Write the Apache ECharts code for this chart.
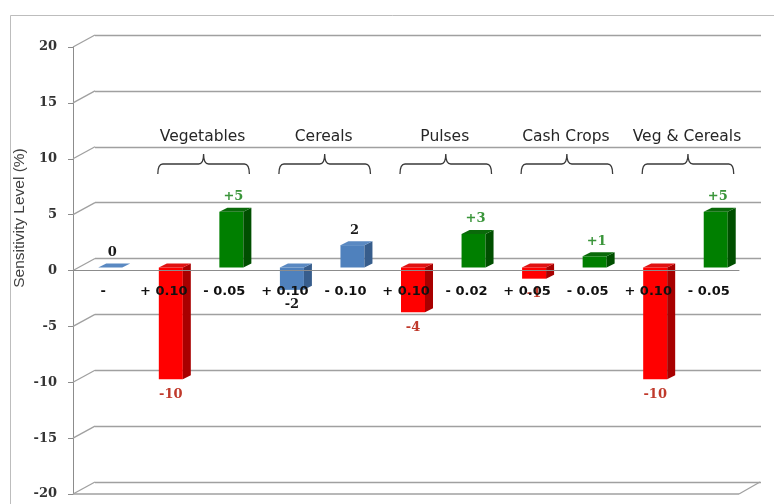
<!DOCTYPE html>
<html>
<head>
<meta charset="utf-8">
<script src="https://cdn.jsdelivr.net/npm/echarts@6/dist/echarts.min.js"></script>
<style>
  html, body { margin: 0; padding: 0; background: #ffffff; }
  #chart { width: 774px; height: 504px; }
</style>
</head>
<body>
<div id="chart"></div>
<script>
// Price-change scenarios (x axis) and the resulting sensitivity level (%)
const categories = ['-', '+ 0.10', '- 0.05', '+ 0.10', '- 0.10', '+ 0.10', '- 0.02', '+ 0.05', '- 0.05', '+ 0.10', '- 0.05'];
const sensitivity = [0, -10, 5, -2, 2, -4, 3, -1, 1, -10, 5];
// colour family of each column
const barKinds = ['neutral', 'priceUp', 'priceDown', 'neutral', 'neutral', 'priceUp', 'priceDown', 'priceUp', 'priceDown', 'priceUp', 'priceDown'];
// crop groups, each spanning two neighbouring scenarios
const groupNames = ['Vegetables', 'Cereals', 'Pulses', 'Cash Crops', 'Veg & Cereals'];
const groupFirstIndex = [1, 3, 5, 7, 9];
const yTicks = [-20, -15, -10, -5, 0, 5, 10, 15, 20];

const palette = {
  neutral:   { front: '#4F81BD', side: '#375D8C', top: '#5A89C2', label: '#1a1a1a', sign: '' },
  priceUp:   { front: '#FF0000', side: '#A80000', top: '#E01212', label: '#C0392B', sign: '' },
  priceDown: { front: '#007F00', side: '#004F00', top: '#0A6A0A', label: '#3A953A', sign: '+' }
};

// pseudo-3D depth of the plot box (back wall offset) and of the columns
const WALL_DX = 22, WALL_DY = 12;
const BAR_SHIFT_X = 7, BAR_SHIFT_Y = 3, BAR_HALF = 12, BAR_DX = 8, BAR_DY = 4;
const W = 774, H = 504;
const frontGrid = { left: 73, top: 47, right: 35, bottom: 10 };
const backGrid = {
  left: frontGrid.left + WALL_DX, top: frontGrid.top - WALL_DY,
  right: frontGrid.right - WALL_DX, bottom: frontGrid.bottom + WALL_DY
};
// the category axis sits on the zero line of the front plane
const zeroY = frontGrid.top + (H - frontGrid.top - frontGrid.bottom) * yTicks[yTicks.length - 1] / (yTicks[yTicks.length - 1] - yTicks[0]);
const axisGrid = { left: frontGrid.left, top: frontGrid.top, right: frontGrid.right, bottom: H - zeroY };
const lineGrey = '#a0a0a0';

const chart = echarts.init(document.getElementById('chart'), null, { renderer: 'canvas' });

function renderColumn(params, api) {
  const i = api.value(0), v = api.value(1);
  const p0 = api.coord([i, 0]), p1 = api.coord([i, v]);
  const cx = p0[0] + BAR_SHIFT_X;
  const yb = p0[1] - BAR_SHIFT_Y, yv = p1[1] - BAR_SHIFT_Y;
  const yTop = Math.min(yb, yv), yBot = Math.max(yb, yv);
  const c = palette[barKinds[i]];
  const children = [];
  if (yBot - yTop > 0.5) {
    children.push({ type: 'rect', shape: { x: cx - BAR_HALF, y: yTop, width: 2 * BAR_HALF, height: yBot - yTop }, style: { fill: c.front } });
    children.push({ type: 'polygon', shape: { points: [[cx + BAR_HALF, yTop], [cx + BAR_HALF + BAR_DX, yTop - BAR_DY], [cx + BAR_HALF + BAR_DX, yBot - BAR_DY], [cx + BAR_HALF, yBot]] }, style: { fill: c.side } });
  }
  children.push({ type: 'polygon', shape: { points: [[cx - BAR_HALF, yTop], [cx - BAR_HALF + BAR_DX, yTop - BAR_DY], [cx + BAR_HALF + BAR_DX, yTop - BAR_DY], [cx + BAR_HALF, yTop]] }, style: { fill: c.top } });
  const text = (v > 0 ? c.sign : '') + String(v);
  const ly = v >= 0 ? yTop - BAR_DY - 11 : yBot + 15;
  const lx = v >= 0 ? cx + 2 : cx;
  children.push({
    type: 'text', z2: 10,
    style: { text: text, x: lx, y: ly, align: 'center', verticalAlign: 'middle', fill: c.label,
      fontFamily: 'DejaVu Serif', fontWeight: 'bold', fontSize: 13 }
  });
  return { type: 'group', children: children };
}

function renderFrame(params, api) {
  const cs = params.coordSys;
  const v = api.value(1);
  const y = api.coord([0, v])[1];
  const st = { stroke: lineGrey, lineWidth: 1.3 };
  const children = [{ type: 'line', shape: { x1: cs.x, y1: y, x2: cs.x + WALL_DX, y2: y - WALL_DY }, style: st }];
  if (v === yTicks[0]) {
    const xr = cs.x + cs.width;
    children.push({ type: 'line', shape: { x1: cs.x, y1: y, x2: xr, y2: y }, style: st });
    children.push({ type: 'line', shape: { x1: xr, y1: y, x2: xr + WALL_DX - 1, y2: y - WALL_DY }, style: st });
  }
  return { type: 'group', children: children };
}

function renderGroup(params, api) {
  const cs = params.coordSys;
  const a = api.coord([api.value(0), 0])[0] - 6;
  const b = api.coord([api.value(1), 0])[0] + 25;
  const mid = (a + b) / 2;
  const yTip = cs.y + 107, yMid = cs.y + 117, yEnd = cs.y + 127;
  const path = 'M' + a + ' ' + yEnd + ' Q' + a + ' ' + yMid + ' ' + (a + 5) + ' ' + yMid +
    ' L' + (mid - 5) + ' ' + yMid + ' Q' + mid + ' ' + yMid + ' ' + mid + ' ' + yTip +
    ' Q' + mid + ' ' + yMid + ' ' + (mid + 5) + ' ' + yMid +
    ' L' + (b - 5) + ' ' + yMid + ' Q' + b + ' ' + yMid + ' ' + b + ' ' + yEnd;
  return {
    type: 'group',
    children: [
      { type: 'path', shape: { pathData: path }, style: { fill: 'none', stroke: '#3a3a3a', lineWidth: 1.3 } },
      { type: 'text', style: { text: groupNames[api.value(2)], x: mid - 1, y: cs.y + 90, align: 'center', verticalAlign: 'middle',
          fill: '#262626', fontFamily: 'DejaVu Sans', fontSize: 15.5 } }
    ]
  };
}

function gridOf(g) {
  return { left: g.left, top: g.top, right: g.right, bottom: g.bottom, containLabel: false, outerBoundsMode: 'none' };
}

const option = {
  animation: false,
  backgroundColor: '#ffffff',
  grid: [gridOf(frontGrid), gridOf(backGrid), gridOf(axisGrid)],
  xAxis: [
    { type: 'category', gridIndex: 0, data: categories, show: false },
    { type: 'category', gridIndex: 1, data: categories, show: false },
    {
      type: 'category', gridIndex: 2, data: categories, position: 'bottom', z: 5,
      axisLine: { onZero: false, lineStyle: { color: '#8c8c8c', width: 1 } },
      axisTick: { length: 5, lineStyle: { color: '#8c8c8c' } },
      axisLabel: { interval: 0, margin: 15, color: '#111111', fontFamily: 'DejaVu Sans', fontWeight: 'bold', fontSize: 13 },
      splitLine: { show: false }
    }
  ],
  yAxis: [
    {
      type: 'value', gridIndex: 0, min: yTicks[0], max: yTicks[yTicks.length - 1], interval: 5,
      axisLine: { show: true, lineStyle: { color: '#8c8c8c' } },
      axisTick: { show: true, length: 5, lineStyle: { color: '#8c8c8c' } },
      axisLabel: { margin: 16, color: '#333333', fontFamily: 'DejaVu Serif', fontWeight: 'bold', fontSize: 13 },
      splitLine: { show: false }
    },
    {
      type: 'value', gridIndex: 1, min: yTicks[0], max: yTicks[yTicks.length - 1], interval: 5,
      axisLine: { show: false }, axisTick: { show: false }, axisLabel: { show: false },
      splitLine: { show: true, lineStyle: { color: lineGrey, width: 1.3 } }
    },
    { type: 'value', gridIndex: 2, show: false, splitLine: { show: false } }
  ],
  graphic: [
    { type: 'rect', z: -1, shape: { x: 10.5, y: 15.5, width: 900, height: 600 }, style: { fill: 'none', stroke: '#bdbdbd', lineWidth: 1 } },
    { type: 'text', x: 20, y: 218, rotation: Math.PI / 2,
      style: { text: 'Sensitivity Level (%)', align: 'center', verticalAlign: 'middle', fill: '#404040',
        fontFamily: 'Liberation Sans', fontSize: 15.5 } }
  ],
  series: [
    { type: 'custom', name: 'frame', xAxisIndex: 0, yAxisIndex: 0, z: 1, silent: true,
      data: yTicks.map(v => [0, v]), renderItem: renderFrame },
    { type: 'custom', name: 'Sensitivity', xAxisIndex: 0, yAxisIndex: 0, z: 3,
      data: sensitivity.map((v, i) => [i, v]), renderItem: renderColumn },
    { type: 'custom', name: 'groups', xAxisIndex: 0, yAxisIndex: 0, z: 4, silent: true,
      data: groupFirstIndex.map((s, k) => [s, s + 1, k]), renderItem: renderGroup }
  ]
};

chart.setOption(option);
</script>
</body>
</html>
